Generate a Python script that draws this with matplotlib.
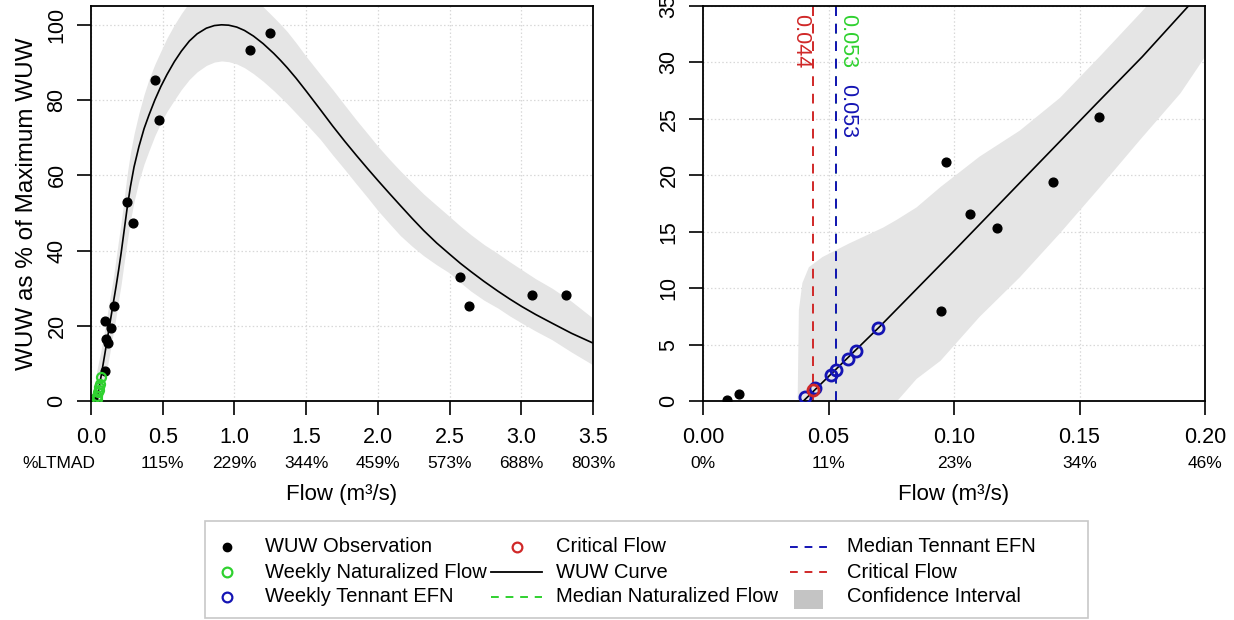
import matplotlib
matplotlib.use("Agg")
import matplotlib.pyplot as plt
from matplotlib.lines import Line2D
from matplotlib.patches import Rectangle

plt.rcParams['font.family'] = ['Liberation Sans', 'DejaVu Sans']

# ---------------- data ----------------
obs_flow = [0.0096, 0.0145, 0.0948, 0.0967, 0.1063, 0.1172, 0.1394, 0.1576,
            0.252, 0.291, 0.444, 0.477, 1.11, 1.246, 2.574, 2.637, 3.072, 3.315]
obs_wuw = [0.1, 0.6, 8.0, 21.2, 16.6, 15.3, 19.4, 25.2,
           52.9, 47.2, 85.2, 74.7, 93.3, 97.9, 32.9, 25.2, 28.1, 28.2]

nat_flow = [0.041, 0.045, 0.051, 0.053, 0.058, 0.061, 0.070]
nat_wuw = [0.4, 1.2, 2.3, 2.8, 3.8, 4.5, 6.5]

ten_flow = [0.0408, 0.0448, 0.0510, 0.0530, 0.0579, 0.0609, 0.0699]
ten_wuw = [0.38, 1.18, 2.31, 2.78, 3.76, 4.47, 6.45]

crit_flow = [0.044]
crit_wuw = [0.98]

curve_x = [0.04, 0.07, 0.10, 0.13, 0.157, 0.175, 0.193, 0.21, 0.23, 0.251, 0.275,
           0.30, 0.334, 0.37, 0.404, 0.445, 0.487, 0.53, 0.581, 0.63, 0.686, 0.74,
           0.804, 0.86, 0.91, 0.96, 1.016, 1.07, 1.133, 1.2, 1.274, 1.32, 1.368,
           1.43, 1.502, 1.6, 1.685, 1.77, 1.85, 1.93, 2.003, 2.08, 2.156, 2.24,
           2.32, 2.41, 2.501, 2.575, 2.649, 2.74, 2.837, 2.92, 3.004, 3.1, 3.214,
           3.35, 3.5]
curve_y = [0.0, 6.5, 13.3, 20.2, 26.4, 30.5, 34.9, 39.3, 45.0, 51.0, 57.0,
           62.2, 67.6, 72.4, 76.0, 80.0, 83.6, 86.8, 90.2, 93.0, 95.7, 97.6,
           99.1, 99.8, 100.0, 99.9, 99.4, 98.5, 97.0, 95.0, 92.4, 90.6, 88.6,
           85.8, 82.3, 77.4, 73.1, 69.0, 65.3, 61.7, 58.5, 55.2, 52.0, 48.5,
           45.3, 42.0, 39.0, 36.6, 34.4, 31.8, 29.2, 27.1, 25.1, 23.0, 20.7,
           18.0, 15.4]
band_lo = [0.0, 1.0, 6.0, 12.5, 18.5, 22.5, 27.0, 31.0, 36.5, 42.0, 48.0,
           53.0, 58.5, 63.0, 66.5, 70.5, 74.0, 77.0, 80.0, 82.8, 85.5, 87.5,
           89.2, 90.1, 90.4, 90.2, 89.6, 88.6, 87.0, 85.0, 82.5, 80.8, 79.0,
           76.5, 73.6, 69.5, 65.4, 61.5, 57.7, 54.0, 50.5, 47.2, 44.0, 41.1,
           38.6, 36.2, 34.0, 31.5, 29.2, 26.8, 24.7, 22.6, 20.7, 18.6, 16.3,
           13.0, 9.6]
band_hi = [8.0, 13.5, 20.0, 27.0, 33.0, 38.0, 43.0, 47.5, 53.5, 60.0, 66.0,
           71.0, 76.5, 81.5, 85.5, 89.5, 93.0, 96.5, 100.0, 103.0, 106.0, 108.0,
           109.5, 110.2, 110.4, 110.2, 109.4, 108.3, 106.8, 104.8, 102.0, 100.2, 98.2,
           95.2, 91.5, 86.8, 82.8, 78.6, 74.7, 71.0, 67.6, 64.3, 61.2, 58.0,
           55.0, 52.0, 49.0, 46.5, 44.2, 41.6, 39.2, 37.0, 34.9, 32.5, 30.0,
           26.5, 22.0]

# confidence band of the zoomed (right) panel
zoom_x = [0.0375, 0.038, 0.0394, 0.042, 0.0474, 0.058, 0.0715, 0.077, 0.0849,
          0.0944, 0.110, 0.126, 0.142, 0.158, 0.174, 0.19, 0.2]
zoom_hi = [0.0, 8.1, 10.5, 11.9, 12.8, 14.0, 15.4, 16.1, 17.2,
           19.0, 21.7, 24.0, 26.9, 30.6, 34.4, 38.3, 40.7]
zoom_lo = [0.0, 0.0, 0.0, 0.0, 0.0, 0.0, 0.0, 0.0, 2.0,
           3.6, 7.5, 11.0, 14.9, 19.0, 23.2, 27.3, 30.6]

critical_flow = 0.044
median_tennant = 0.053
median_nat = 0.053

left_ticks = [0.0, 0.5, 1.0, 1.5, 2.0, 2.5, 3.0, 3.5]
left_ticklabels = ["0.0", "0.5", "1.0", "1.5", "2.0", "2.5", "3.0", "3.5"]
left_pct = ["%LTMAD", "115%", "229%", "344%", "459%", "573%", "688%", "803%"]
right_ticks = [0.0, 0.05, 0.10, 0.15, 0.20]
right_ticklabels = ["0.00", "0.05", "0.10", "0.15", "0.20"]
right_pct = ["0%", "11%", "23%", "34%", "46%"]
left_yticks = [0, 20, 40, 60, 80, 100]
right_yticks = [0, 5, 10, 15, 20, 25, 30, 35]

legend_labels = [["WUW Observation", "Weekly Naturalized Flow", "Weekly Tennant EFN"],
                 ["Critical Flow", "WUW Curve", "Median Naturalized Flow"],
                 ["Median Tennant EFN", "Critical Flow", "Confidence Interval"]]

# ---------------- styles ----------------
C_GREEN = '#2fd12f'
C_BLUE = '#1414b4'
C_RED = '#d02828'
C_BAND = '#e5e5e5'
C_GRID = '#d8d8d8'
C_LEGBOX = '#c4c4c4'
DASH = (0, (5, 4))

W, H = 1234, 620
fig = plt.figure(figsize=(W / 100, H / 100), dpi=100)


def px_axes(x0, y0, x1, y1):
    return fig.add_axes([x0 / W, 1 - y1 / H, (x1 - x0) / W, (y1 - y0) / H])


def fx(x):
    return x / W


def fy(y):
    return 1 - y / H


axL = px_axes(91, 6, 593, 401)
axR = px_axes(703, 6, 1205, 401)

TICK_FS = 15.5
PCT_FS = 12.5
YT_FS = 15.5

for ax in (axL, axR):
    ax.set_axisbelow(True)
    ax.grid(True, color=C_GRID, linestyle=(0, (1.2, 1.8)), linewidth=0.9)
    for s in ax.spines.values():
        s.set_linewidth(1.3)
        s.set_color('black')
    ax.tick_params(axis='both', direction='out', length=10, width=1.2, colors='black')
    ax.tick_params(axis='x', labelsize=TICK_FS, pad=8.5)
    ax.tick_params(axis='y', labelsize=YT_FS, pad=7)

# ---- left panel ----
axL.fill_between(curve_x, band_lo, band_hi, color=C_BAND, linewidth=0, zorder=1)
axL.plot(curve_x, curve_y, color='black', linewidth=1.2, zorder=3)
axL.plot(obs_flow, obs_wuw, 'o', color='black', markersize=6.3, zorder=4)
axL.plot(nat_flow, nat_wuw, 'o', markerfacecolor='none', markeredgecolor=C_GREEN,
         markersize=6.5, markeredgewidth=1.6, zorder=5)
axL.set_xlim(0, 3.5)
axL.set_ylim(0, 105)
axL.set_xticks(left_ticks)
axL.set_xticklabels(left_ticklabels)
axL.set_yticks(left_yticks)
axL.set_yticklabels([str(v) for v in left_yticks], rotation=90, va='center')
axL.set_ylabel("WUW as % of Maximum WUW", fontsize=17.5, labelpad=6)

# ---- right panel ----
axR.fill_between(zoom_x, zoom_lo, zoom_hi, color=C_BAND, linewidth=0, zorder=1)
axR.plot(curve_x, curve_y, color='black', linewidth=1.2, zorder=3)
axR.plot(obs_flow, obs_wuw, 'o', color='black', markersize=6.3, zorder=4)
axR.axvline(critical_flow, color=C_RED, linestyle=DASH, linewidth=1.4, zorder=2)
axR.axvline(median_nat, color=C_GREEN, linestyle=DASH, linewidth=1.4, zorder=2)
axR.axvline(median_tennant, color=C_BLUE, linestyle=DASH, linewidth=1.4, zorder=2)
axR.plot(ten_flow, ten_wuw, 'o', markerfacecolor='none', markeredgecolor=C_BLUE,
         markersize=8, markeredgewidth=2, zorder=5)
axR.plot(crit_flow, crit_wuw, 'o', markerfacecolor='none', markeredgecolor=C_RED,
         markersize=8, markeredgewidth=2, zorder=6)
axR.set_xlim(0, 0.2)
axR.set_ylim(0, 35)
axR.set_xticks(right_ticks)
axR.set_xticklabels(right_ticklabels)
axR.set_yticks(right_yticks)
axR.set_yticklabels([str(v) for v in right_yticks], rotation=90, va='center')

LBL_FS = 15.5
axR.text(0.0388, 34.3, f"{critical_flow:.3f}", color=C_RED, rotation=-90,
         ha='center', va='top', fontsize=LBL_FS, zorder=7)
axR.text(0.0578, 34.3, f"{median_nat:.3f}", color=C_GREEN, rotation=-90,
         ha='center', va='top', fontsize=LBL_FS, zorder=7)
axR.text(0.0578, 28.1, f"{median_tennant:.3f}", color=C_BLUE, rotation=-90,
         ha='center', va='top', fontsize=LBL_FS, zorder=7)

# ---- second row of x labels (%LTMAD) and axis titles ----
PCT_OFF = -62 * 0.72
for ax, ticks, pcts in ((axL, left_ticks, left_pct), (axR, right_ticks, right_pct)):
    for t, p in zip(ticks, pcts):
        if p == "%LTMAD":
            ax.annotate(p, xy=(t, 0), xycoords=ax.get_xaxis_transform(),
                        xytext=(3, PCT_OFF), textcoords='offset points',
                        ha='right', va='center', fontsize=PCT_FS, annotation_clip=False)
        else:
            ax.annotate(p, xy=(t, 0), xycoords=ax.get_xaxis_transform(),
                        xytext=(0, PCT_OFF), textcoords='offset points',
                        ha='center', va='center', fontsize=PCT_FS, annotation_clip=False)
    ax.annotate("Flow (m³/s)", xy=(0.5, 0), xycoords='axes fraction',
                xytext=(0, -94 * 0.72), textcoords='offset points',
                ha='center', va='center', fontsize=16, annotation_clip=False)

# ---- legend (laid out like the R legend box) ----
LEG_FS = 14.5
fig.add_artist(Rectangle((fx(205), fy(618)), fx(1088) - fx(205), fy(521) - fy(618),
                         transform=fig.transFigure, facecolor='white',
                         edgecolor='#c8c8c8', linewidth=1.2))
row_y = [547, 572, 597]
col_text_x = [265, 556, 847]


def leg_marker(x, y, **kw):
    fig.add_artist(Line2D([fx(x)], [fy(y)], transform=fig.transFigure,
                          linestyle='none', marker='o', **kw))


def leg_line(x0, x1, y, **kw):
    fig.add_artist(Line2D([fx(x0), fx(x1)], [fy(y), fy(y)],
                          transform=fig.transFigure, **kw))


# column 1
leg_marker(227, row_y[0], color='black', markersize=6)
leg_marker(227, row_y[1], markerfacecolor='none', markeredgecolor=C_GREEN,
           markeredgewidth=1.6, markersize=7)
leg_marker(227, row_y[2], markerfacecolor='none', markeredgecolor=C_BLUE,
           markeredgewidth=1.6, markersize=7)
# column 2
leg_marker(517, row_y[0], markerfacecolor='none', markeredgecolor=C_RED,
           markeredgewidth=1.6, markersize=7)
leg_line(491, 542, row_y[1], color='black', linewidth=1.3)
leg_line(491, 542, row_y[2], color=C_GREEN, linewidth=1.4, linestyle=(0, (4, 3.5)))
# column 3
leg_line(790, 833, row_y[0], color=C_BLUE, linewidth=1.4, linestyle=(0, (4, 3.5)))
leg_line(790, 833, row_y[1], color=C_RED, linewidth=1.4, linestyle=(0, (4, 3.5)))
fig.add_artist(Rectangle((fx(794), fy(609)), fx(823) - fx(794), fy(590) - fy(609),
                         transform=fig.transFigure, facecolor=C_LEGBOX, edgecolor='none'))

for ci, col in enumerate(legend_labels):
    for ri, lab in enumerate(col):
        fig.text(fx(col_text_x[ci]), fy(row_y[ri]), lab, ha='left', va='center',
                 fontsize=LEG_FS)

fig.savefig("out.png", dpi=100)
